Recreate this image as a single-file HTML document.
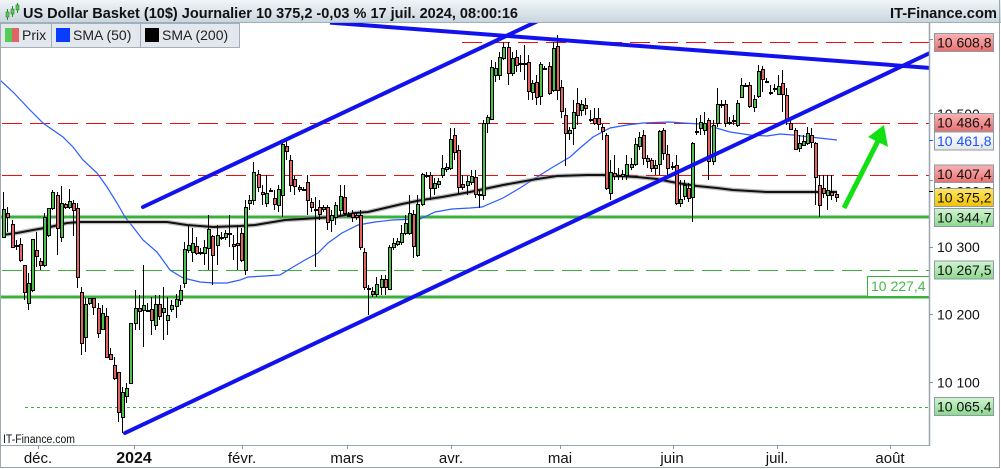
<!DOCTYPE html>
<html><head><meta charset="utf-8">
<style>
html,body{margin:0;padding:0;background:#fff;width:1001px;height:469px;overflow:hidden}
svg{display:block}
text{font-family:"Liberation Sans",Arial,sans-serif}
</style></head>
<body>
<svg id="s" width="1001" height="469" viewBox="0 0 1001 469" xmlns="http://www.w3.org/2000/svg">
<defs>
<linearGradient id="hg" x1="0" y1="0" x2="0" y2="1"><stop offset="0" stop-color="#f1f5f8"/><stop offset="1" stop-color="#c8d5de"/></linearGradient>
<linearGradient id="rg" x1="0" y1="0" x2="0" y2="1"><stop offset="0" stop-color="#f9b4b4"/><stop offset="1" stop-color="#ea6e6e"/></linearGradient>
<linearGradient id="gg" x1="0" y1="0" x2="0" y2="1"><stop offset="0" stop-color="#d2f3d2"/><stop offset="1" stop-color="#8cd98c"/></linearGradient>
<linearGradient id="yg" x1="0" y1="0" x2="0" y2="1"><stop offset="0" stop-color="#ffe766"/><stop offset="1" stop-color="#f2c200"/></linearGradient>
<linearGradient id="wg" x1="0" y1="0" x2="0" y2="1"><stop offset="0" stop-color="#ffffff"/><stop offset="1" stop-color="#e4e6e8"/></linearGradient>
<clipPath id="pc"><rect x="1" y="23" width="928" height="422"/></clipPath>
</defs>
<rect x="0" y="0" width="1001" height="469" fill="#fff"/>

<g clip-path="url(#pc)">
  <line x1="458" y1="42.5" x2="929" y2="42.5" stroke="#e81010" stroke-width="1" stroke-dasharray="20 8" stroke-dashoffset="-4"/>
  <line x1="2" y1="123.5" x2="929" y2="123.5" stroke="#e81010" stroke-width="1" stroke-dasharray="20 8"/>
  <line x1="2" y1="175.5" x2="929" y2="175.5" stroke="#e81010" stroke-width="1" stroke-dasharray="20 8"/>
  <line x1="1" y1="217" x2="929" y2="217" stroke="#3cb03c" stroke-width="3"/>
  <line x1="2" y1="270.5" x2="929" y2="270.5" stroke="#3cb43c" stroke-width="1" stroke-dasharray="20 8"/>
  <line x1="1" y1="297" x2="929" y2="297" stroke="#3cb03c" stroke-width="3"/>
  <line x1="25" y1="407.5" x2="929" y2="407.5" stroke="#3cb43c" stroke-width="1" stroke-dasharray="3 3"/>

  <polyline fill="none" stroke="#2a5cff" stroke-width="1.2" points="0,80 13,92 30,110 43,123 50,128 63,137 73,147 83,160 97,173 107,187 117,203 125,217 133,227 143,240 157,252 170,270 183,278 200,282 213,283 227,283 240,280 248,277 265,276 280,275 293,267 305,260 318,253 328,243 342,233 358,225 375,222 392,220 420,219 435,212 452,209 470,208 482,207 503,198 520,188 537,177 553,167 570,157 580,148 593,137 610,128 627,125 643,123 670,122 683,123 700,124 713,127 730,132 750,135 767,136 780,134 793,135 810,137 837,140"/>
  <polyline fill="none" stroke="#8a8a8a" stroke-opacity="0.55" stroke-width="4.5" points="2,235 17,233 33,230 50,227 67,223 80,222 100,222 133,222 167,222 187,225 213,227 240,226 255,225 285,220 302,219 335,217 355,213 368,212 385,208 402,204 422,200 442,197 470,192 503,185 520,182 537,179 557,176 587,175 603,175 620,176 637,177 657,179 677,183 697,186 717,188 733,190 750,191 767,192 793,192 837,192"/>
  <polyline fill="none" stroke="#111" stroke-width="2" points="2,235 17,233 33,230 50,227 67,223 80,222 100,222 133,222 167,222 187,225 213,227 240,226 255,225 285,220 302,219 335,217 355,213 368,212 385,208 402,204 422,200 442,197 470,192 503,185 520,182 537,179 557,176 587,175 603,175 620,176 637,177 657,179 677,183 697,186 717,188 733,190 750,191 767,192 793,192 837,192"/>

  <g id="candles" shape-rendering="crispEdges"></g>

  <line x1="143" y1="207" x2="540" y2="20" stroke="#1212ee" stroke-width="4" stroke-linecap="round"/>
  <line x1="125" y1="433" x2="931" y2="52.5" stroke="#1212ee" stroke-width="4" stroke-linecap="round"/>
  <line x1="330" y1="22.6" x2="931" y2="68" stroke="#1212ee" stroke-width="4"/>

  <line x1="844" y1="208" x2="878" y2="141" stroke="#12e012" stroke-width="5"/>
  <polygon points="868,137 888,147 884,125" fill="#12e012"/>

  <rect x="867.5" y="276.5" width="62" height="20" fill="#fff" stroke="#3cb03c" stroke-width="1"/>
  <text x="871" y="291" font-size="14" fill="#44bb44">10 227,4</text>

  <text x="3" y="443" font-size="11.5" fill="#111" textLength="72" lengthAdjust="spacingAndGlyphs">IT-Finance.com</text>
</g>

<rect x="0" y="0" width="1001" height="22.5" fill="url(#hg)"/>
<line x1="0" y1="22.5" x2="1001" y2="22.5" stroke="#9fb0bb" stroke-width="1"/>
<g>
  <line x1="7.5" y1="9" x2="7.5" y2="20" stroke="#2a8a2a"/><rect x="6" y="12" width="3" height="5" fill="#55cc55" stroke="#2a7a2a" stroke-width="0.6"/>
  <line x1="12.5" y1="6" x2="12.5" y2="17" stroke="#2a8a2a"/><rect x="11" y="9" width="3" height="5" fill="#55cc55" stroke="#2a7a2a" stroke-width="0.6"/>
  <line x1="17.5" y1="3" x2="17.5" y2="13" stroke="#2a8a2a"/><rect x="16" y="5" width="3" height="5" fill="#55cc55" stroke="#2a7a2a" stroke-width="0.6"/>
</g>
<text x="23" y="18" font-size="15" font-weight="bold" fill="#111" textLength="495" lengthAdjust="spacingAndGlyphs">US Dollar Basket (10$) Journalier 10 375,2 -0,03 % 17 juil. 2024, 08:00:16</text>
<text x="997" y="18" font-size="15" font-weight="bold" fill="#111" text-anchor="end" textLength="107" lengthAdjust="spacingAndGlyphs">IT-Finance.com</text>

<rect x="0.5" y="23.5" width="51" height="24" fill="#e2e8ed" stroke="#a3afb8"/>
<rect x="51.5" y="23.5" width="89" height="24" fill="#e2e8ed" stroke="#a3afb8"/>
<rect x="140.5" y="23.5" width="99" height="24" fill="#e2e8ed" stroke="#a3afb8"/>
<rect x="5" y="28" width="7" height="14" fill="#55cc55"/><rect x="12" y="28" width="7" height="14" fill="#e06666"/>
<rect x="56" y="28" width="14" height="14" fill="#0a3cff"/>
<rect x="145" y="28" width="14" height="14" fill="#000"/>
<text x="22" y="40" font-size="14" fill="#222">Prix</text>
<text x="73" y="40" font-size="14" fill="#222">SMA (50)</text>
<text x="162" y="40" font-size="14" fill="#222">SMA (200)</text>

<line x1="0.5" y1="22" x2="0.5" y2="468" stroke="#a0aab2"/>
<line x1="929.5" y1="22" x2="929.5" y2="446" stroke="#9aa6ae" stroke-width="1.5"/>
<line x1="0" y1="445.5" x2="930" y2="445.5" stroke="#9aa6ae"/>
<line x1="0" y1="467.5" x2="1000" y2="467.5" stroke="#9aa6ae"/>
<line x1="999.5" y1="0" x2="999.5" y2="468" stroke="#9aa6ae"/>

<g stroke="#8a959d">
  <line x1="929" y1="39.5" x2="933" y2="39.5"/>
  <line x1="929" y1="113.5" x2="933" y2="113.5"/>
  <line x1="929" y1="180.5" x2="933" y2="180.5"/>
  <line x1="929" y1="247.5" x2="933" y2="247.5"/>
  <line x1="929" y1="314.5" x2="933" y2="314.5"/>
  <line x1="929" y1="382.5" x2="933" y2="382.5"/>
</g>
<line x1="929" y1="140.5" x2="933" y2="140.5" stroke="#2a5cff"/>
<line x1="929" y1="191.5" x2="933" y2="191.5" stroke="#000"/>
<g font-size="14" fill="#111">
  <text x="937" y="44.5">10 600</text>
  <text x="937" y="118.8">10 500</text>
  <text x="937" y="185">10 400</text>
  <text x="937" y="252">10 300</text>
  <text x="937" y="319.5">10 200</text>
  <text x="937" y="387.5">10 100</text>
</g>

<g stroke="#8c9ba6" stroke-width="1">
  <rect x="934.5" y="33.5" width="59" height="18" fill="url(#rg)"/>
  <rect x="934.5" y="113.5" width="59" height="18" fill="url(#rg)"/>
  <rect x="934.5" y="132" width="59" height="18" fill="url(#wg)"/>
  <rect x="934.5" y="165" width="59" height="18" fill="url(#rg)"/>
  <rect x="934.5" y="182.5" width="59" height="18" fill="#fff"/>
  <rect x="934.5" y="188.5" width="59" height="18" fill="url(#yg)"/>
  <rect x="934.5" y="208.5" width="59" height="18" fill="url(#gg)"/>
  <rect x="934.5" y="261" width="59" height="18" fill="url(#gg)"/>
  <rect x="934.5" y="397.5" width="59" height="18" fill="url(#gg)"/>
</g>
<g font-size="14" fill="#111">
  <text x="937" y="47.5">10 608,8</text>
  <text x="937" y="127.5">10 486,4</text>
  <text x="937" y="146" fill="#1a53ff">10 461,8</text>
  <text x="937" y="179">10 407,4</text>
  <text x="937" y="196.5">10 382,5</text>
</g>
<rect x="934.5" y="188.5" width="59" height="18" fill="url(#yg)" stroke="#8c9ba6"/>
<g font-size="14" fill="#111">
  <text x="937" y="202.5">10 375,2</text>
  <text x="937" y="222.5">10 344,7</text>
  <text x="937" y="275">10 267,5</text>
  <text x="937" y="411.5">10 065,4</text>
</g>

<g stroke="#8a959d">
  <line x1="38.5" y1="445" x2="38.5" y2="449"/>
  <line x1="134.5" y1="445" x2="134.5" y2="449"/>
  <line x1="242.5" y1="445" x2="242.5" y2="449"/>
  <line x1="347.5" y1="445" x2="347.5" y2="449"/>
  <line x1="451.5" y1="445" x2="451.5" y2="449"/>
  <line x1="560.5" y1="445" x2="560.5" y2="449"/>
  <line x1="673.5" y1="445" x2="673.5" y2="449"/>
  <line x1="777.5" y1="445" x2="777.5" y2="449"/>
  <line x1="890.5" y1="445" x2="890.5" y2="449"/>
</g>
<g font-size="15" fill="#111" text-anchor="middle">
  <text x="38" y="463">déc.</text>
  <text x="134" y="463" font-weight="bold" font-size="16">2024</text>
  <text x="242" y="463">févr.</text>
  <text x="347" y="463">mars</text>
  <text x="451" y="463">avr.</text>
  <text x="560" y="463">mai</text>
  <text x="672" y="463">juin</text>
  <text x="777" y="463">juil.</text>
  <text x="890" y="463">août</text>
</g>
</svg>
<script>
(function(){
var D=[[237,209,192,238],[213,217,207,232],[224,247,220,248],[245,245,240,250],[244,260,238,262],[265,292,265,300],[303,283,273,310],[290,239,239,292],[250,256,232,267],[261,265,258,270],
[265,217,213,267],[235,208,208,237],[208,192,190,210],[195,228,192,255],[237,203,186,242],[204,207,203,209],[207,201,189,209],[203,210,200,236],[208,277,203,288],[292,343,287,355],
[337,304,298,352],[303,298,298,305],[298,307,298,315],[308,333,303,338],[329,313,305,330],[316,357,308,358],[354,359,348,360],[365,378,357,380],[372,412,372,422],[417,392,387,433],
[396,388,383,403],[383,323,323,384],[323,308,290,330],[308,311,295,330],[310,305,265,347],[310,310,303,312],[309,320,297,335],[325,304,295,330],[304,316,295,320],[312,308,287,340],
[320,315,297,335],[309,305,300,312],[306,299,294,318],[300,290,285,305],[283,249,242,288],[250,245,225,253],[252,243,228,262],[246,253,237,255],[252,252,248,255],[253,247,240,265],
[248,229,215,270],[236,255,235,285],[245,235,225,265],[237,237,232,240],[237,233,230,240],[233,233,215,247],[244,246,235,260],[243,245,225,270],[233,260,228,262],[270,207,200,275],
[203,200,195,210],[200,172,162,205],[174,187,170,192],[192,194,185,205],[203,193,175,207],[190,190,188,192],[198,204,190,210],[205,189,185,212],[195,144,142,217],[146,151,140,160],
[160,185,155,192],[179,186,176,195],[187,189,185,192],[189,189,187,191],[182,200,175,215],[202,207,198,212],[209,209,197,267],[207,214,200,220],[209,207,205,212],[207,222,205,230],
[220,215,210,232],[217,205,202,225],[210,196,185,215],[197,213,185,215],[215,215,212,217],[213,217,210,222],[215,217,212,220],[215,247,210,250],[252,287,248,290],[288,289,285,315],
[291,294,287,297],[294,284,277,297],[287,279,275,295],[279,287,275,295],[289,247,245,290],[247,243,238,250],[244,241,238,246],[242,233,225,245],[233,223,215,235],[233,213,195,235],
[214,246,210,258],[255,204,195,257],[204,174,173,206],[175,175,172,178],[175,188,172,200],[188,183,178,195],[184,181,178,188],[175,168,155,178],[169,167,163,172],[168,139,128,170],
[135,152,128,160],[150,187,145,193],[184,187,175,190],[185,181,176,195],[182,176,170,185],[177,194,170,198],[194,194,190,208],[195,123,120,200],[123,117,115,133],[119,67,60,120],
[75,68,62,82],[75,57,52,80],[58,47,42,60],[47,73,42,85],[73,58,52,76],[57,65,50,72],[63,63,55,72],[63,63,45,80],[62,91,55,100],[92,83,80,100],
[82,97,75,105],[96,64,62,105],[68,68,66,70],[66,93,62,95],[90,48,42,92],[46,90,35,100],[87,111,80,118],[115,133,108,166],[133,130,127,140],[128,112,100,145],
[103,115,88,125],[110,104,100,116],[105,108,98,115],[119,119,110,122],[118,123,108,125],[118,124,108,130],[127,131,124,140],[135,188,133,190],[193,172,160,200],[173,176,155,180],
[175,175,168,180],[176,174,170,180],[175,164,155,180],[167,164,158,170],[164,144,138,166],[146,137,132,150],[135,158,130,165],[158,161,155,168],[160,168,158,172],[168,165,160,175],
[164,131,130,175],[130,153,128,160],[154,168,145,175],[166,166,162,170],[165,203,155,205],[203,199,180,207],[196,185,180,200],[188,198,183,202],[197,143,142,222],[131,131,118,135],
[128,122,115,135],[130,123,112,135],[120,161,118,180],[161,125,120,165],[123,104,88,127],[104,104,100,108],[104,123,100,127],[122,123,117,125],[120,120,115,125],[125,103,100,127],
[97,85,78,98],[85,85,83,87],[85,106,82,108],[107,99,95,112],[96,71,65,98],[69,79,66,92],[81,81,78,82],[92,92,85,95],[88,88,84,92],[94,86,75,95],
[83,94,70,112],[95,119,88,125],[123,129,120,130],[130,149,128,150],[148,143,135,152],[145,141,135,146],[143,133,127,145],[135,142,128,148],[143,177,142,205],[185,205,175,217],
[188,193,175,198],[195,190,175,210],[192,195,175,200],[194,197,192,202]];
var NS="http://www.w3.org/2000/svg";
var g=document.getElementById('candles');
function mk(tag,attrs){var e=document.createElementNS(NS,tag);for(var k in attrs){e.setAttribute(k,String(attrs[k]));}g.appendChild(e);return e;}
for(var i=0;i<D.length;i++){
  var o=D[i][0],c=D[i][1],h=D[i][2],l=D[i][3];
  var cx=Math.round(4.3+4.1*i);
  mk('rect',{x:cx-1,y:h,width:1,height:Math.max(1,l-h),fill:'#000'});
  var top=Math.round(Math.min(o,c)),bot=Math.round(Math.max(o,c));
  var hh=bot-top; if(hh<1)hh=1;
  var fill=(c<o)?'#4cc24c':'#e36464';
  mk('rect',{x:cx-2,y:top,width:4,height:hh+1,fill:'#000'});
  if(hh>=2){mk('rect',{x:cx-1,y:top+1,width:2,height:hh-1,fill:fill});}
}
})();
</script>
</body></html>
